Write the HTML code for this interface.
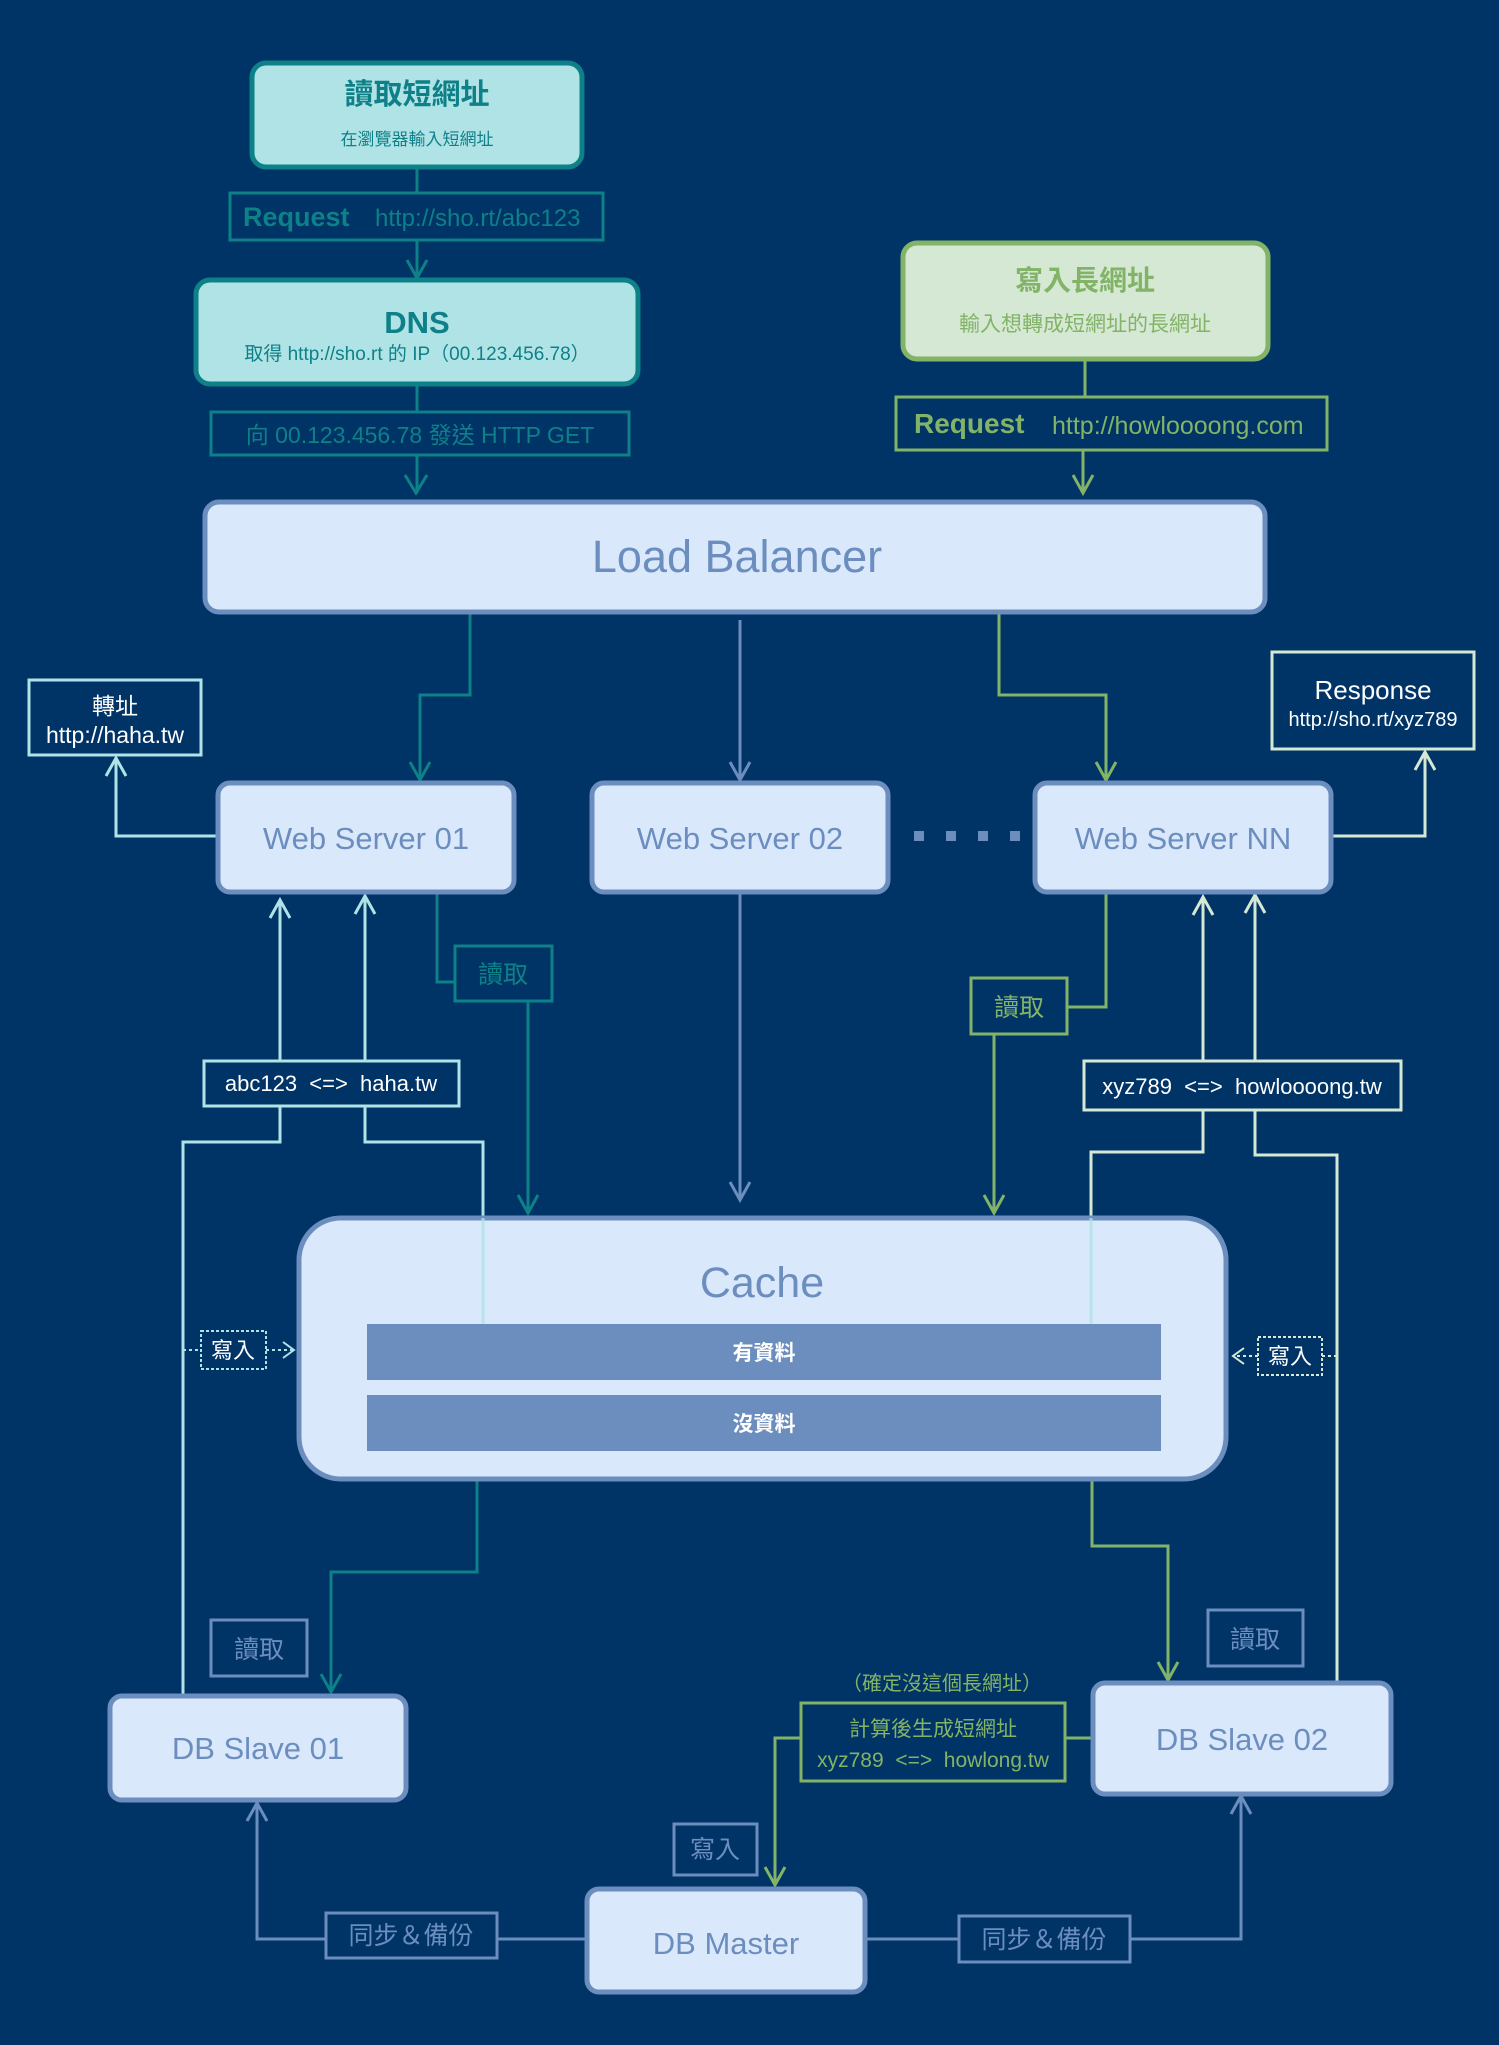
<!DOCTYPE html>
<html><head><meta charset="utf-8"><style>
html,body{margin:0;padding:0;background:#003366;}
svg{display:block;}
text{font-family:"Liberation Sans","Noto Sans CJK TC",sans-serif;}
</style></head><body>
<svg width="1499" height="2045" viewBox="0 0 1499 2045" xmlns="http://www.w3.org/2000/svg">
<rect width="1499" height="2045" fill="#003366"/>
<g fill="none" stroke-width="3">
<!-- top-left flow (teal) -->
<path d="M417 167V193M417 240V278M417 384V412M417 455V493" stroke="#0e8088"/>
<path d="M407 260L417 278L427 260M405 475L416 493L427 475" stroke="#0e8088"/>
<!-- top-right (green) -->
<path d="M1085 359V397M1083 450V493" stroke="#82b366"/>
<path d="M1073 475L1083 493L1093 475" stroke="#82b366"/>
<!-- LB to servers -->
<path d="M470 614V695H420V780" stroke="#0e8088"/>
<path d="M410 762L420 780L430 762" stroke="#0e8088"/>
<path d="M740 620V780" stroke="#6c8ebf"/>
<path d="M730 762L740 780L750 762" stroke="#6c8ebf"/>
<path d="M999 614V695H1106V780" stroke="#82b366"/>
<path d="M1096 762L1106 780L1116 762" stroke="#82b366"/>
<!-- redirect / response -->
<path d="M218 836H116V758" stroke="#b0e3e6"/>
<path d="M106 776L116 758L126 776" stroke="#b0e3e6"/>
<path d="M1331 836H1425V752" stroke="#d5e8d4"/>
<path d="M1415 770L1425 752L1435 770" stroke="#d5e8d4"/>
<!-- WS01 read -> cache -->
<path d="M437 892V982H455M528 1001V1213" stroke="#0e8088"/>
<path d="M518 1195L528 1213L538 1195" stroke="#0e8088"/>
<!-- WS02 -> cache -->
<path d="M740 892V1200" stroke="#6c8ebf"/>
<path d="M730 1182L740 1200L750 1182" stroke="#6c8ebf"/>
<!-- WSNN read -> cache -->
<path d="M1106 892V1007H1067M994 1034V1213" stroke="#82b366"/>
<path d="M984 1195L994 1213L1004 1195" stroke="#82b366"/>
<!-- abc123 lines -->
<path d="M183 1696V1142H280V1106M280 1061V900" stroke="#b0e3e6"/>
<path d="M270 918L280 900L290 918" stroke="#b0e3e6"/>
<path d="M483 1324V1142H365V1106M365 1061V896" stroke="#b0e3e6"/>
<path d="M355 914L365 896L375 914" stroke="#b0e3e6"/>
<!-- xyz789 lines -->
<path d="M1091 1324V1152H1203V1110M1203 1061V897" stroke="#d5e8d4"/>
<path d="M1193 915L1203 897L1213 915" stroke="#d5e8d4"/>
<path d="M1337 1683V1155H1255V1110M1255 1061V895" stroke="#d5e8d4"/>
<path d="M1245 913L1255 895L1265 913" stroke="#d5e8d4"/>
<!-- dashed write -->
<path d="M183 1350H201M266 1350H293" stroke="#b0e3e6" stroke-width="2" stroke-dasharray="3 3"/>
<path d="M283 1342L294 1350L283 1358" stroke="#b0e3e6" stroke-width="2"/>
<path d="M1337 1356H1322M1258 1356H1234" stroke="#d5e8d4" stroke-width="2" stroke-dasharray="3 3"/>
<path d="M1244 1348L1233 1356L1244 1364" stroke="#d5e8d4" stroke-width="2"/>
<!-- cache -> db slaves -->
<path d="M477 1451V1572H331V1692" stroke="#0e8088"/>
<path d="M321 1674L331 1692L341 1674" stroke="#0e8088"/>
<path d="M1092 1451V1546H1168V1680" stroke="#82b366"/>
<path d="M1158 1662L1168 1680L1178 1662" stroke="#82b366"/>
<!-- compute -->
<path d="M1093 1738H1065M801 1738H775V1885" stroke="#82b366"/>
<path d="M765 1867L775 1885L785 1867" stroke="#82b366"/>
<!-- sync -->
<path d="M587 1939H497M326 1939H257V1803" stroke="#6c8ebf"/>
<path d="M247 1821L257 1803L267 1821" stroke="#6c8ebf"/>
<path d="M865 1939H959M1130 1939H1241V1796" stroke="#6c8ebf"/>
<path d="M1231 1814L1241 1796L1251 1814" stroke="#6c8ebf"/>
</g>

<!-- top boxes -->
<rect x="252" y="63" width="330" height="104" rx="14" fill="#b0e3e6" stroke="#0e8088" stroke-width="5"/>
<text x="417" y="104" text-anchor="middle" font-size="29" font-weight="bold" fill="#0e8088">讀取短網址</text>
<text x="417" y="145" text-anchor="middle" font-size="17" fill="#0e8088">在瀏覽器輸入短網址</text>
<rect x="230" y="193" width="373" height="47" fill="#003366" stroke="#0e8088" stroke-width="3"/>
<text x="243" y="226" font-size="27" font-weight="bold" fill="#0e8088">Request</text>
<text x="375" y="226" font-size="24" fill="#0e8088">http://sho.rt/abc123</text>
<rect x="196" y="280" width="442" height="104" rx="14" fill="#b0e3e6" stroke="#0e8088" stroke-width="5"/>
<text x="417" y="333" text-anchor="middle" font-size="31" font-weight="bold" fill="#0e8088">DNS</text>
<text x="417" y="360" text-anchor="middle" font-size="19" fill="#0e8088">取得 http://sho.rt 的 IP（00.123.456.78）</text>
<rect x="211" y="412" width="418" height="43" fill="#003366" stroke="#0e8088" stroke-width="3"/>
<text x="420" y="443" text-anchor="middle" font-size="23" fill="#0e8088">向 00.123.456.78 發送 HTTP GET</text>

<rect x="903" y="243" width="365" height="116" rx="14" fill="#d5e8d4" stroke="#82b366" stroke-width="5"/>
<text x="1085" y="290" text-anchor="middle" font-size="28" font-weight="bold" fill="#82b366">寫入長網址</text>
<text x="1085" y="331" text-anchor="middle" font-size="21" fill="#82b366">輸入想轉成短網址的長網址</text>
<rect x="896" y="397" width="431" height="53" fill="#003366" stroke="#82b366" stroke-width="3"/>
<text x="914" y="433" font-size="28" font-weight="bold" fill="#82b366">Request</text>
<text x="1052" y="434" font-size="25" fill="#82b366">http://howloooong.com</text>

<!-- LB -->
<rect x="205" y="502" width="1060" height="110" rx="14" fill="#dae8fc" stroke="#6c8ebf" stroke-width="5"/>
<text x="737" y="572" text-anchor="middle" font-size="45" fill="#6c8ebf">Load Balancer</text>

<!-- servers -->
<rect x="218" y="783" width="296" height="109" rx="12" fill="#dae8fc" stroke="#6c8ebf" stroke-width="5"/>
<text x="366" y="849" text-anchor="middle" font-size="31" fill="#6c8ebf">Web Server 01</text>
<rect x="592" y="783" width="296" height="109" rx="12" fill="#dae8fc" stroke="#6c8ebf" stroke-width="5"/>
<text x="740" y="849" text-anchor="middle" font-size="31" fill="#6c8ebf">Web Server 02</text>
<rect x="1035" y="783" width="296" height="109" rx="12" fill="#dae8fc" stroke="#6c8ebf" stroke-width="5"/>
<text x="1183" y="849" text-anchor="middle" font-size="31" fill="#6c8ebf">Web Server NN</text>
<g fill="#6c8ebf"><rect x="914" y="831" width="10" height="10"/><rect x="946" y="831" width="10" height="10"/><rect x="978" y="831" width="10" height="10"/><rect x="1010" y="831" width="10" height="10"/></g>

<rect x="29" y="680" width="172" height="75" fill="#003366" stroke="#b0e3e6" stroke-width="3"/>
<text x="115" y="714" text-anchor="middle" font-size="23" fill="#fff">轉址</text>
<text x="115" y="743" text-anchor="middle" font-size="23" fill="#fff">http://haha.tw</text>
<rect x="1272" y="652" width="202" height="97" fill="#003366" stroke="#d5e8d4" stroke-width="3"/>
<text x="1373" y="699" text-anchor="middle" font-size="26" fill="#fff">Response</text>
<text x="1373" y="726" text-anchor="middle" font-size="20" fill="#fff">http://sho.rt/xyz789</text>

<!-- read labels -->
<rect x="455" y="946" width="97" height="55" fill="#003366" stroke="#0e8088" stroke-width="3"/>
<text x="503" y="983" text-anchor="middle" font-size="25" fill="#0e8088">讀取</text>
<rect x="971" y="978" width="96" height="56" fill="#003366" stroke="#82b366" stroke-width="3"/>
<text x="1019" y="1016" text-anchor="middle" font-size="25" fill="#82b366">讀取</text>

<rect x="204" y="1061" width="255" height="45" fill="#003366" stroke="#b0e3e6" stroke-width="3"/>
<text x="331" y="1091" text-anchor="middle" font-size="22" fill="#fff" xml:space="preserve">abc123  &lt;=&gt;  haha.tw</text>
<rect x="1084" y="1061" width="317" height="49" fill="#003366" stroke="#d5e8d4" stroke-width="3"/>
<text x="1242" y="1094" text-anchor="middle" font-size="22" fill="#fff" xml:space="preserve">xyz789  &lt;=&gt;  howloooong.tw</text>

<!-- cache -->
<rect x="299" y="1218" width="927" height="261" rx="42" fill="#dae8fc" stroke="#6c8ebf" stroke-width="5"/>
<text x="762" y="1297" text-anchor="middle" font-size="43" fill="#6c8ebf">Cache</text>
<rect x="367" y="1324" width="794" height="56" fill="#6c8ebf"/>
<text x="764" y="1360" text-anchor="middle" font-size="21" font-weight="bold" fill="#fff">有資料</text>
<rect x="367" y="1395" width="794" height="56" fill="#6c8ebf"/>
<text x="764" y="1431" text-anchor="middle" font-size="21" font-weight="bold" fill="#fff">沒資料</text>
<path d="M483 1218V1324M1091 1218V1324" stroke="#b0e3e6" stroke-width="3" opacity="0.8"/>

<rect x="201" y="1331" width="65" height="38" fill="#003366" stroke="#b0e3e6" stroke-width="2" stroke-dasharray="3 2"/>
<text x="233" y="1358" text-anchor="middle" font-size="22" fill="#fff">寫入</text>
<rect x="1258" y="1337" width="64" height="38" fill="#003366" stroke="#d5e8d4" stroke-width="2" stroke-dasharray="3 2"/>
<text x="1290" y="1364" text-anchor="middle" font-size="22" fill="#fff">寫入</text>

<!-- bottom labels -->
<rect x="211" y="1620" width="96" height="56" fill="#003366" stroke="#6c8ebf" stroke-width="3"/>
<text x="259" y="1658" text-anchor="middle" font-size="25" fill="#6c8ebf">讀取</text>
<rect x="1208" y="1610" width="95" height="56" fill="#003366" stroke="#6c8ebf" stroke-width="3"/>
<text x="1255" y="1648" text-anchor="middle" font-size="25" fill="#6c8ebf">讀取</text>

<rect x="110" y="1696" width="296" height="104" rx="12" fill="#dae8fc" stroke="#6c8ebf" stroke-width="5"/>
<text x="258" y="1759" text-anchor="middle" font-size="31" fill="#6c8ebf">DB Slave 01</text>
<rect x="1093" y="1683" width="298" height="111" rx="12" fill="#dae8fc" stroke="#6c8ebf" stroke-width="5"/>
<text x="1242" y="1750" text-anchor="middle" font-size="31" fill="#6c8ebf">DB Slave 02</text>

<text x="942" y="1690" text-anchor="middle" font-size="20" fill="#82b366">（確定沒這個長網址）</text>
<rect x="801" y="1703" width="264" height="78" fill="#003366" stroke="#82b366" stroke-width="3"/>
<text x="933" y="1736" text-anchor="middle" font-size="21" fill="#82b366">計算後生成短網址</text>
<text x="933" y="1767" text-anchor="middle" font-size="21" fill="#82b366" xml:space="preserve">xyz789  &lt;=&gt;  howlong.tw</text>

<rect x="674" y="1824" width="83" height="51" fill="#003366" stroke="#6c8ebf" stroke-width="3"/>
<text x="715" y="1858" text-anchor="middle" font-size="25" fill="#6c8ebf">寫入</text>

<rect x="587" y="1889" width="278" height="103" rx="12" fill="#dae8fc" stroke="#6c8ebf" stroke-width="5"/>
<text x="726" y="1954" text-anchor="middle" font-size="31" fill="#6c8ebf">DB Master</text>

<rect x="326" y="1913" width="171" height="45" fill="#003366" stroke="#6c8ebf" stroke-width="3"/>
<text x="411" y="1944" text-anchor="middle" font-size="25" fill="#6c8ebf">同步＆備份</text>
<rect x="959" y="1916" width="171" height="46" fill="#003366" stroke="#6c8ebf" stroke-width="3"/>
<text x="1044" y="1948" text-anchor="middle" font-size="25" fill="#6c8ebf">同步＆備份</text>
</svg>
</body></html>
